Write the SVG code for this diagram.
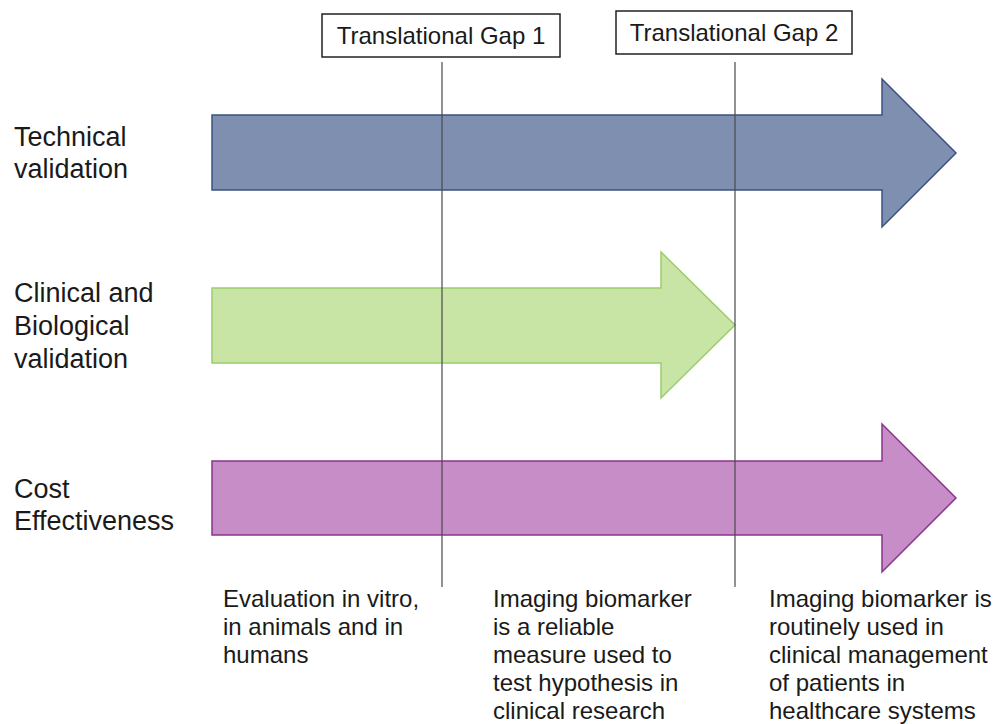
<svg xmlns="http://www.w3.org/2000/svg" width="994" height="724" viewBox="0 0 994 724">
  <style>
    .lbl { font-family: "Liberation Sans", Arial, sans-serif; font-size: 27px; fill: #1a1a1a; }
    .note { font-family: "Liberation Sans", Arial, sans-serif; font-size: 24px; fill: #1a1a1a; }
    .gap-box { fill: #ffffff; stroke: #222222; stroke-width: 1.5; }
    .gap-text { font-family: "Liberation Sans", Arial, sans-serif; font-size: 24px; fill: #1a1a1a; text-anchor: middle; }
    .divider { stroke: #4a4a4a; stroke-width: 1.2; }
    .tech { fill: #7f8fb0; stroke: #3b5183; stroke-width: 1.5; }
    .clin { fill: #c8e5a6; stroke: #9ccc6b; stroke-width: 1.5; }
    .cost { fill: #c68dc7; stroke: #8b3590; stroke-width: 1.5; }
  </style>

  <rect width="994" height="724" fill="#ffffff"/>

  <!-- Row labels -->
  <g id="label-technical">
    <text class="lbl" x="14" y="146">Technical</text>
    <text class="lbl" x="14" y="178">validation</text>
  </g>
  <g id="label-clinical">
    <text class="lbl" x="14" y="302">Clinical and</text>
    <text class="lbl" x="14" y="335">Biological</text>
    <text class="lbl" x="14" y="368">validation</text>
  </g>
  <g id="label-cost">
    <text class="lbl" x="14" y="498">Cost</text>
    <text class="lbl" x="14" y="530">Effectiveness</text>
  </g>

  <!-- Block arrows -->
  <g id="arrow-technical">
    <polygon class="tech" points="212,115 882,115 882,79 956,153 882,227 882,190 212,190"/>
  </g>
  <g id="arrow-clinical">
    <polygon class="clin" points="212,288 661,288 661,252 735,325 661,398 661,363 212,363"/>
  </g>
  <g id="arrow-cost">
    <polygon class="cost" points="212,461 882,461 882,424 956,498 882,572 882,535 212,535"/>
  </g>

  <!-- Gap markers -->
  <g id="gap-1">
    <rect class="gap-box" x="322" y="14" width="238" height="43"/>
    <text class="gap-text" x="441" y="44">Translational Gap 1</text>
  </g>
  <g id="gap-2">
    <rect class="gap-box" x="616" y="11" width="236" height="43"/>
    <text class="gap-text" x="734" y="41">Translational Gap 2</text>
  </g>

  <!-- Divider lines -->
  <g id="connectors">
    <line class="divider" x1="442" y1="62" x2="442" y2="587"/>
    <line class="divider" x1="735" y1="62" x2="735" y2="587"/>
  </g>

  <!-- Stage descriptions -->
  <g id="stage-1">
    <text class="note" x="223" y="607">Evaluation in vitro,</text>
    <text class="note" x="223" y="635">in animals and in</text>
    <text class="note" x="223" y="663">humans</text>
  </g>
  <g id="stage-2">
    <text class="note" x="493" y="607">Imaging biomarker</text>
    <text class="note" x="493" y="635">is a reliable</text>
    <text class="note" x="493" y="663">measure used to</text>
    <text class="note" x="493" y="691">test hypothesis in</text>
    <text class="note" x="493" y="719">clinical research</text>
  </g>
  <g id="stage-3">
    <text class="note" x="769" y="607">Imaging biomarker is</text>
    <text class="note" x="769" y="635">routinely used in</text>
    <text class="note" x="769" y="663">clinical management</text>
    <text class="note" x="769" y="691">of patients in</text>
    <text class="note" x="769" y="719">healthcare systems</text>
  </g>
</svg>
